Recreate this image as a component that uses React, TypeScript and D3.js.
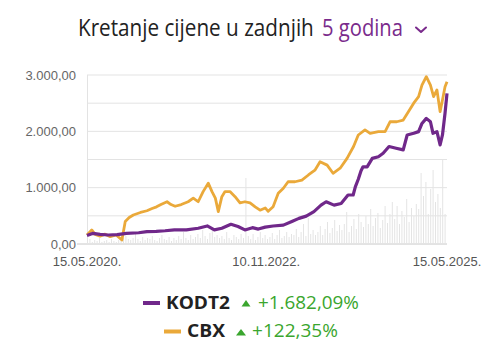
import React, { useLayoutEffect, useRef, useState } from "react";
import * as d3 from "d3";

const kodtDates = ["2020-05-15","2020-06-15","2020-07-20","2020-09-01","2020-10-15","2020-12-01","2021-02-01","2021-03-15","2021-05-01","2021-06-15","2021-08-01","2021-10-01","2021-11-30","2022-01-15","2022-02-20","2022-03-30","2022-05-15","2022-06-20","2022-07-25","2022-09-01","2022-10-01","2022-11-05","2022-12-15","2023-02-05","2023-03-20","2023-04-25","2023-06-01","2023-07-10","2023-08-15","2023-09-10","2023-10-20","2023-11-25","2023-12-30","2024-01-25","2024-02-05","2024-02-20","2024-03-05","2024-03-15","2024-04-05","2024-05-01","2024-06-01","2024-06-25","2024-07-25","2024-08-30","2024-10-05","2024-10-25","2024-11-27","2024-12-22","2025-01-08","2025-01-30","2025-02-20","2025-03-05","2025-03-25","2025-04-10","2025-04-22","2025-05-05","2025-05-15"];
const kodtValues = [150,190,170,160,165,190,200,220,225,235,250,250,280,320,250,280,350,310,250,290,265,300,320,335,400,455,495,575,690,750,690,720,870,870,1015,1150,1300,1370,1370,1520,1550,1610,1730,1700,1670,1935,1965,1995,2140,2230,2170,1965,1995,1760,1935,2320,2675];

const cbxDates = ["2020-05-15","2020-06-08","2020-06-25","2020-07-20","2020-08-15","2020-09-10","2020-10-10","2020-11-08","2020-11-25","2020-12-15","2021-01-05","2021-02-10","2021-03-15","2021-04-10","2021-05-03","2021-05-25","2021-06-25","2021-07-15","2021-08-05","2021-09-05","2021-10-10","2021-11-05","2021-11-30","2021-12-25","2022-01-20","2022-02-08","2022-02-25","2022-03-12","2022-03-30","2022-04-15","2022-05-10","2022-06-05","2022-06-30","2022-07-25","2022-08-20","2022-09-15","2022-10-10","2022-11-05","2022-11-20","2022-12-15","2023-01-10","2023-02-05","2023-03-01","2023-04-05","2023-05-10","2023-06-12","2023-07-15","2023-08-10","2023-09-15","2023-10-15","2023-11-20","2023-12-25","2024-01-27","2024-02-20","2024-03-25","2024-04-20","2024-06-01","2024-07-05","2024-07-30","2024-09-02","2024-10-05","2024-11-01","2024-11-27","2024-12-22","2025-01-08","2025-01-30","2025-02-20","2025-03-08","2025-03-25","2025-04-10","2025-04-22","2025-05-05","2025-05-15"];
const cbxValues = [160,250,170,140,175,130,160,70,400,470,515,560,590,630,660,700,750,700,670,700,750,815,750,930,1080,930,815,575,840,930,930,840,730,750,730,660,600,640,580,660,900,990,1105,1105,1135,1225,1310,1460,1400,1255,1345,1520,1730,1935,2025,1965,1995,1995,2170,2170,2200,2350,2500,2615,2820,2970,2820,2615,2735,2350,2555,2790,2880];

const volumeValues = [3,5,2,4,3,6,2,3,4,2,5,3,2,4,3,6,
  8,5,4,6,10,5,3,7,4,6,
  5,8,4,3,6,9,5,4,7,3,
  6,4,8,5,12,6,4,9,5,7,
  10,6,14,8,5,11,16,7,9,6,
  8,5,12,6,4,9,7,5,10,6,
  66,
  8,5,10,4,7,12,6,9,5,
  7,11,5,9,14,6,8,12,7,10,
  9,15,7,12,20,8,26,10,14,9,
  12,18,9,15,22,11,16,24,13,19,
  14,20,32,12,18,25,15,30,22,17,
  28,20,35,18,26,31,16,24,38,21,
  30,42,25,38,20,33,27,45,22,36,
  28,40,35,71,48,62,30,55,74,42,
  50,36,84,30];

const yTicks = [0, 500, 1000, 1500, 2000, 2500, 3000];
const yLabelTicks = [0, 1000, 2000, 3000];
const xTickDates = ["2020-05-15", "2022-11-10", "2025-05-15"];
const xTickLabels = ["15.05.2020.", "10.11.2022.", "15.05.2025."];

const titleMain = "Kretanje cijene u zadnjih";
const titlePeriod = "5 godina";

const series = [
  { name: "KODT2", change: "+1.682,09%", color: "#70288a" },
  { name: "CBX", change: "+122,35%", color: "#eaa93a" },
];

const parse = d3.timeParse("%Y-%m-%d");
const fmt = (v: number) => {
  const s = d3.format(",.2f")(v);
  return s.replace(/,/g, "X").replace(/\./g, ",").replace(/X/g, ".");
};

function FitText(props: { x: number; y: number; width: number; size: number; fill: string; weight?: string; family: string; children: string }) {
  const ref = useRef<SVGTextElement>(null);
  const [sx, setSx] = useState(1);
  useLayoutEffect(() => {
    if (ref.current) {
      const w = ref.current.getComputedTextLength();
      if (w > 0) setSx(props.width / w);
    }
  }, [props.width, props.children]);
  return (
    <g transform={`translate(${props.x},${props.y}) scale(${sx},1)`}>
      <text ref={ref} x={0} y={0} fontFamily={props.family} fontSize={props.size} fontWeight={props.weight || "normal"} fill={props.fill}>{props.children}</text>
    </g>
  );
}

export default function App() {
  const W = 491, H = 356;
  const start = parse("2020-05-15")!;
  const end = parse("2025-05-15")!;
  const x = d3.scaleTime().domain([start, end]).range([87, 447]);
  const y = d3.scaleLinear().domain([0, 3000]).range([244, 75]);
  const yVol = d3.scaleLinear().domain([0, 100]).range([244, 144]);
  const line = d3.line<[Date, number]>().x(d => x(d[0])).y(d => y(d[1])).curve(d3.curveLinear);
  const kodt = kodtDates.map((d, i) => [parse(d)!, kodtValues[i]] as [Date, number]);
  const cbx = cbxDates.map((d, i) => [parse(d)!, cbxValues[i]] as [Date, number]);
  const span = end.getTime() - start.getTime();
  const volDates = volumeValues.map((_, i) => new Date(start.getTime() + (i / volumeValues.length) * span));
  const OS = "Open Sans, sans-serif";

  return (
    <svg width={W} height={H} style={{ position: "absolute", left: 0, top: 0, background: "#fff" }}>
      <FitText x={78} y={36} width={236} size={23} fill="#222" family={OS}>{titleMain}</FitText>
      <FitText x={322} y={36} width={81} size={23} fill="#7a2b8c" family={OS}>{titlePeriod}</FitText>
      <path d="M416,27.5 L421,32 L426,27.5" fill="none" stroke="#7a2b8c" strokeWidth={2} strokeLinecap="round" strokeLinejoin="round" />

      {yTicks.map(t => (
        <line key={t} x1={t === 0 ? 77 : 87} x2={447} y1={y(t)} y2={y(t)} stroke={t === 0 ? "#c8c8c8" : "#e3e3e3"} strokeWidth={1} />
      ))}
      <line x1={87.5} x2={87.5} y1={75} y2={244} stroke="#e3e3e3" />
      {yLabelTicks.map(t => (
        <text key={t} x={76} y={y(t)} dy="0.35em" textAnchor="end" fontFamily="Liberation Sans, Arial, sans-serif" fontSize={13} fill="#666">{fmt(t)}</text>
      ))}
      {xTickDates.map((d, i) => (
        <text key={d} x={x(parse(d)!)} y={266} textAnchor="middle" fontFamily="Liberation Sans, Arial, sans-serif" fontSize={13} fill="#555">{xTickLabels[i]}</text>
      ))}

      {volumeValues.map((v, i) => (
        <rect key={i} x={x(volDates[i])} y={yVol(v)} width={1} height={244 - yVol(v)} fill="#e4e4e4" />
      ))}

      <path d={line(cbx)!} fill="none" stroke={series[1].color} strokeWidth={2.8} strokeLinejoin="round" />
      <path d={line(kodt)!} fill="none" stroke={series[0].color} strokeWidth={3.2} strokeLinejoin="round" />

      <line x1={143} x2={160} y1={303} y2={303} stroke={series[0].color} strokeWidth={4} />
      <FitText x={166} y={308.5} width={64} size={18} weight="bold" fill="#222" family={OS}>{series[0].name}</FitText>
      <path d="M241.5,306.5 L246,300 L250.5,306.5 Z" fill="#3aa62e" />
      <FitText x={258} y={308.5} width={101} size={18} fill="#3aa62e" family={OS}>{series[0].change}</FitText>

      <line x1={164} x2={181} y1={331.5} y2={331.5} stroke={series[1].color} strokeWidth={4} />
      <FitText x={187} y={337} width={38} size={18} weight="bold" fill="#222" family={OS}>{series[1].name}</FitText>
      <path d="M236,335.5 L241,329 L246,335.5 Z" fill="#3aa62e" />
      <FitText x={252} y={337} width={86} size={18} fill="#3aa62e" family={OS}>{series[1].change}</FitText>
    </svg>
  );
}
